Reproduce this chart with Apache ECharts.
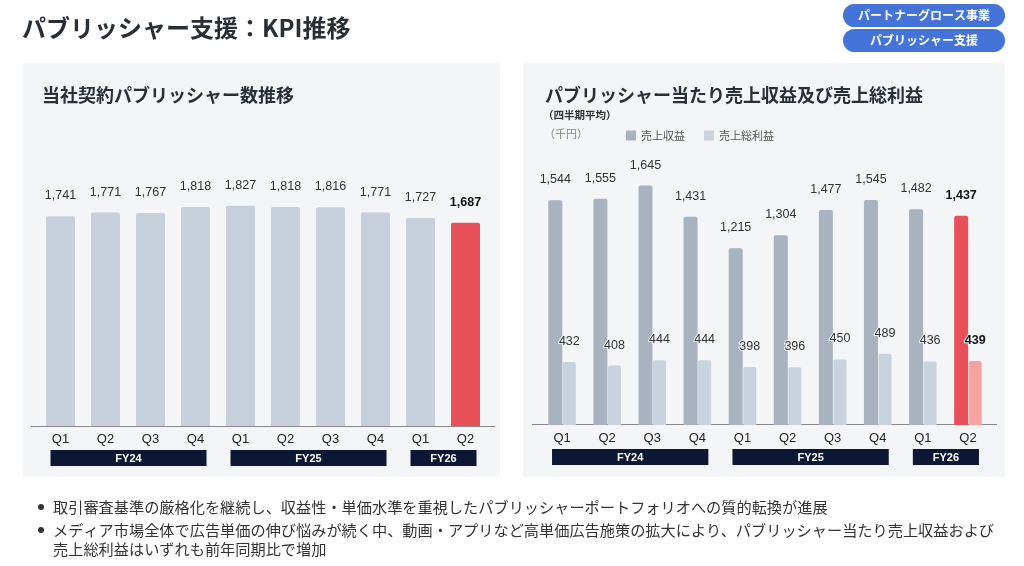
<!DOCTYPE html>
<html><head><meta charset="utf-8">
<script src="https://cdn.jsdelivr.net/npm/echarts@6/dist/echarts.min.js"></script>
<style>html,body{margin:0;padding:0;background:#fff}#c{width:1024px;height:566px}</style>
</head><body><div id="c"></div>
<script>
const categories = ['Q1','Q2','Q3','Q4','Q1','Q2','Q3','Q4','Q1','Q2'];
const publishers = [1741,1771,1767,1818,1827,1818,1816,1771,1727,1687];
const revenue = [1544,1555,1645,1431,1215,1304,1477,1545,1482,1437];
const grossProfit = [432,408,444,444,398,396,450,489,436,439];
const fiscalYears = [['FY24',0,3],['FY25',4,7],['FY26',8,9]];
const bullets = [
  '取引審査基準の厳格化を継続し、収益性・単価水準を重視したパブリッシャーポートフォリオへの質的転換が進展',
  'メディア市場全体で広告単価の伸び悩みが続く中、動画・アプリなど高単価広告施策の拡大により、パブリッシャー当たり売上収益および\n売上総利益はいずれも前年同期比で増加'
];

const JP = '"Noto Sans CJK JP", "Noto Sans", sans-serif';
const NUM = '"Liberation Sans", Arial, sans-serif';
const last = categories.length - 1;
const fmt = v => v.toLocaleString('en-US');

function barData(arr, color, hl) {
  return arr.map((v, i) => i === last ? {
    value: v, itemStyle: {color: hl},
    label: {fontWeight: 'bold', color: '#111'}
  } : v);
}
function fyRender(params, api) {
  const s = api.coord([api.value(0), 0]);
  const e = api.coord([api.value(2), 0]);
  const x0 = s[0] - 10, x1 = e[0] + 11;
  return {type: 'group', children: [
    {type: 'rect', shape: {x: x0, y: s[1] + 24, width: x1 - x0, height: 16}, style: {fill: '#0b1733'}},
    {type: 'text', style: {text: fiscalYears[params.dataIndex][0], x: (x0 + x1) / 2, y: s[1] + 32.5,
      align: 'center', verticalAlign: 'middle', fill: '#fff', font: 'bold 11px ' + NUM}}
  ]};
}
const fyData = fiscalYears.map(f => ({name: f[0], value: [f[1], 0, f[2]]}));

const chart = echarts.init(document.getElementById('c'));
const labelBase = {show: true, position: 'top', distance: 14, fontSize: 12.5, color: '#333', fontFamily: NUM, formatter: p => fmt(p.value)};

chart.setOption({
  backgroundColor: '#ffffff',
  animation: false,
  textStyle: {fontFamily: JP},
  graphic: [
    {type: 'rect', shape: {x: 23, y: 63, width: 477, height: 414, r: 4}, style: {fill: '#f3f5f7'}},
    {type: 'rect', shape: {x: 523, y: 63, width: 482, height: 414, r: 4}, style: {fill: '#f3f5f7'}},
    {type: 'text', style: {text: 'パブリッシャー支援：KPI推移', x: 22, y: 28, verticalAlign: 'middle', font: 'bold 24px ' + JP, fill: '#2a2f36'}},
    {type: 'rect', shape: {x: 843, y: 4, width: 162, height: 23, r: 11.5}, style: {fill: '#4473d9'}},
    {type: 'text', style: {text: 'パートナーグロース事業', x: 924, y: 15.5, align: 'center', verticalAlign: 'middle', font: 'bold 12px ' + JP, fill: '#fff'}},
    {type: 'rect', shape: {x: 843, y: 29, width: 162, height: 23, r: 11.5}, style: {fill: '#4473d9'}},
    {type: 'text', style: {text: 'パブリッシャー支援', x: 924, y: 40.5, align: 'center', verticalAlign: 'middle', font: 'bold 12px ' + JP, fill: '#fff'}},
    {type: 'text', style: {text: '当社契約パブリッシャー数推移', x: 42, y: 95, verticalAlign: 'middle', font: 'bold 18px ' + JP, fill: '#2a2f36'}},
    {type: 'text', style: {text: 'パブリッシャー当たり売上収益及び売上総利益', x: 545, y: 95, verticalAlign: 'middle', font: 'bold 18px ' + JP, fill: '#2a2f36'}},
    {type: 'text', style: {text: '（四半期平均）', x: 543, y: 115, verticalAlign: 'middle', font: 'bold 10.5px ' + JP, fill: '#333'}},
    {type: 'text', style: {text: '（千円）', x: 544, y: 134, verticalAlign: 'middle', font: '11px ' + JP, fill: '#888'}},
    {type: 'line', shape: {x1: 31, y1: 426.5, x2: 495, y2: 426.5}, style: {stroke: '#8a8a8a', lineWidth: 1}},
    {type: 'line', shape: {x1: 532, y1: 424.5, x2: 997, y2: 424.5}, style: {stroke: '#8a8a8a', lineWidth: 1}},
    {type: 'circle', shape: {cx: 41, cy: 507, r: 3}, style: {fill: '#333'}},
    {type: 'text', style: {text: bullets[0], x: 53, y: 507, verticalAlign: 'middle', font: '15.2px ' + JP, fill: '#333'}},
    {type: 'circle', shape: {cx: 41, cy: 530, r: 3}, style: {fill: '#333'}},
    {type: 'text', style: {text: bullets[1], x: 53, y: 520.5, verticalAlign: 'top', font: '15.2px ' + JP, fill: '#333', lineHeight: 19}}
  ],
  legend: {
    left: 621, top: 125, icon: 'rect', itemWidth: 10, itemHeight: 10, itemGap: 19,
    textStyle: {fontSize: 11, color: '#555', fontFamily: JP},
    data: ['売上収益', '売上総利益']
  },
  grid: [
    {left: 38, top: 185, width: 450, height: 241},
    {left: 539.5, top: 163, width: 451, height: 262}
  ],
  xAxis: [
    {type: 'category', gridIndex: 0, data: categories, axisLine: {show: false}, axisTick: {show: false},
      axisLabel: {margin: 7, fontSize: 13, color: '#222', fontFamily: NUM}},
    {type: 'category', gridIndex: 1, data: categories, axisLine: {show: false}, axisTick: {show: false},
      axisLabel: {margin: 7, fontSize: 13, color: '#222', fontFamily: NUM}}
  ],
  yAxis: [
    {type: 'value', gridIndex: 0, min: 0, max: 2000, show: false, splitLine: {show: false}},
    {type: 'value', gridIndex: 1, min: 0, max: 1800, show: false, splitLine: {show: false}}
  ],
  series: [
    {name: '契約パブリッシャー数', type: 'bar', xAxisIndex: 0, yAxisIndex: 0, barWidth: 29,
      itemStyle: {color: '#c7d0da', borderRadius: [2, 2, 0, 0]},
      label: labelBase, data: barData(publishers, '#c7d0da', '#e8505a')},
    {name: 'fy0', type: 'custom', xAxisIndex: 0, yAxisIndex: 0, clip: false, renderItem: fyRender,
      encode: {x: [0, 2], y: 1}, data: fyData, silent: true},
    {name: '売上収益', type: 'bar', xAxisIndex: 1, yAxisIndex: 1, barWidth: 14, barGap: '4%',
      itemStyle: {color: '#a8b3bf', borderRadius: [2, 2, 0, 0]},
      label: labelBase, data: barData(revenue, '#a8b3bf', '#e8505a')},
    {name: '売上総利益', type: 'bar', xAxisIndex: 1, yAxisIndex: 1, barWidth: 13,
      itemStyle: {color: '#c9d3dd', borderRadius: [2, 2, 0, 0]},
      label: Object.assign({}, labelBase, {textBorderColor: '#f3f5f7', textBorderWidth: 2}),
      data: barData(grossProfit, '#c9d3dd', '#f8a3a3')},
    {name: 'fy1', type: 'custom', xAxisIndex: 1, yAxisIndex: 1, clip: false, renderItem: fyRender,
      encode: {x: [0, 2], y: 1}, data: fyData, silent: true}
  ]
});
</script></body></html>
